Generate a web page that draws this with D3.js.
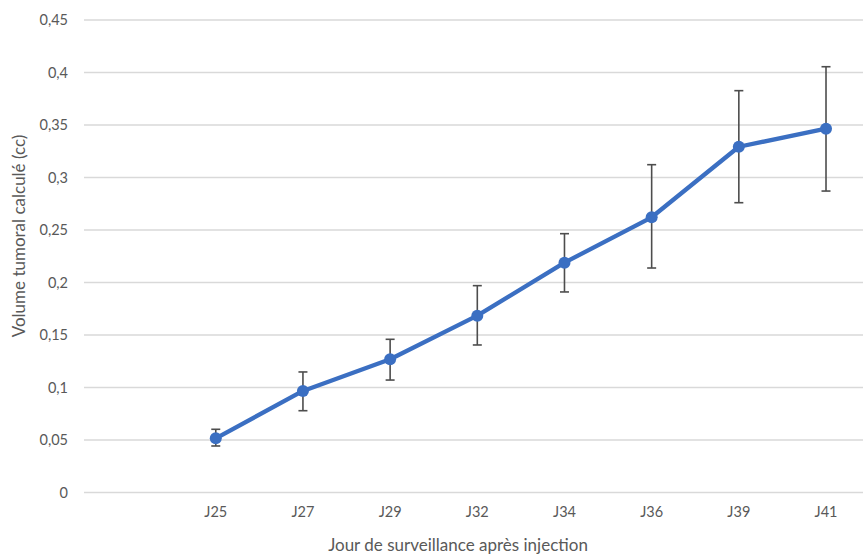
<!DOCTYPE html>
<html><head><meta charset="utf-8">
<script src="https://cdn.jsdelivr.net/npm/d3@7"></script>
<style>body{margin:0;background:#fff}svg{display:block}text{font-family:Lato,"Open Sans",sans-serif;fill:#595959}</style>
</head><body><svg id="c" width="863" height="556"></svg>
<script>
const categories = ["", "J25", "J27", "J29", "J32", "J34", "J36", "J39", "J41"];
const values     = [null, 0.0516, 0.0967, 0.1269, 0.1684, 0.2189, 0.2621, 0.3293, 0.3465];
const errUpper   = [null, 0.0602, 0.1148, 0.1459, 0.1970, 0.2465, 0.3122, 0.3827, 0.4055];
const errLower   = [null, 0.0443, 0.0779, 0.1071, 0.1405, 0.1910, 0.2138, 0.2760, 0.2871];
const yTicks     = [0, 0.05, 0.1, 0.15, 0.2, 0.25, 0.3, 0.35, 0.4, 0.45];
const yTitle = "Volume tumoral calculé (cc)";
const xTitle = "Jour de surveillance après injection";

const svg = d3.select("#c");
const x = d3.scaleBand().domain(categories.map((c,i)=>i)).range([85, 869.6]);
const y = d3.scaleLinear().domain([0, 0.45]).range([492.5, 20]);
const fmt = v => String(+v.toFixed(2)).replace(".", ",");

// gridlines
svg.append("g").selectAll("line").data(yTicks).join("line")
  .attr("x1", 84).attr("x2", 863)
  .attr("y1", d => y(d)).attr("y2", d => y(d))
  .attr("stroke", "#d9d9d9").attr("stroke-width", 1.3);

// y axis labels
const yAxis = d3.axisLeft(y).tickValues(yTicks).tickFormat(fmt).tickSize(0).tickPadding(0);
const gy = svg.append("g").attr("transform", "translate(68,0)").call(yAxis);
gy.select(".domain").remove();
gy.selectAll("text").attr("font-size", 14.5).attr("font-family", "Lato,'Open Sans',sans-serif").attr("fill", "#595959");

// x axis labels
const xAxis = d3.axisBottom(x).tickFormat(i => categories[i]).tickSize(0).tickPadding(0);
const gx = svg.append("g").attr("transform", "translate(0,507)").call(xAxis);
gx.select(".domain").remove();
gx.selectAll("text").attr("font-size", 14.5).attr("font-family", "Lato,'Open Sans',sans-serif").attr("fill", "#595959");

// titles
svg.append("text").attr("x", 458).attr("y", 551).attr("text-anchor", "middle")
  .attr("font-size", 17).text(xTitle);
svg.append("text").attr("transform", "translate(25,236) rotate(-90)").attr("text-anchor", "middle")
  .attr("font-size", 17).text(yTitle);

const idx = categories.map((c,i)=>i).filter(i => values[i] != null);
const cx = i => x(i) + x.bandwidth()/2;

// line
svg.append("path").datum(idx)
  .attr("d", d3.line().x(cx).y(i => y(values[i])))
  .attr("fill", "none").attr("stroke", "#3b6fc2").attr("stroke-width", 4.3).attr("stroke-linejoin", "round");

// error bars
const eb = svg.append("g").attr("stroke", "#4d4d4d").attr("stroke-width", 1.6);
eb.selectAll("line.v").data(idx).join("line").attr("class","v")
  .attr("x1", cx).attr("x2", cx).attr("y1", i => y(errUpper[i])).attr("y2", i => y(errLower[i]));
eb.selectAll("line.t").data(idx).join("line").attr("class","t")
  .attr("x1", i => cx(i)-4.5).attr("x2", i => cx(i)+4.5).attr("y1", i => y(errUpper[i])).attr("y2", i => y(errUpper[i]));
eb.selectAll("line.b").data(idx).join("line").attr("class","b")
  .attr("x1", i => cx(i)-4.5).attr("x2", i => cx(i)+4.5).attr("y1", i => y(errLower[i])).attr("y2", i => y(errLower[i]));

// markers
svg.append("g").selectAll("circle").data(idx).join("circle")
  .attr("cx", cx).attr("cy", i => y(values[i])).attr("r", 6)
  .attr("fill", "#3b6fc2");
</script></body></html>
